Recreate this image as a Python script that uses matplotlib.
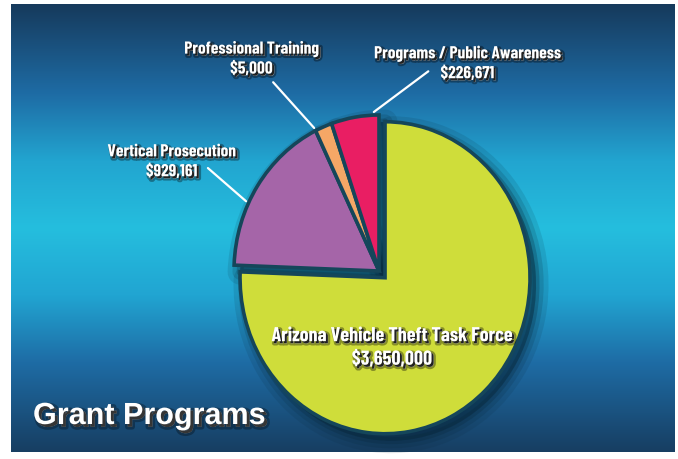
import numpy as np
import matplotlib
matplotlib.use("Agg")
import matplotlib.pyplot as plt
import matplotlib.patheffects as pe
from matplotlib.transforms import ScaledTranslation

# slice shares as drawn (percent of the circle), labels as printed
programs = ["Arizona Vehicle Theft Task Force", "Vertical Prosecution",
            "Professional Training", "Programs / Public Awareness"]
amounts = ["$3,650,000", "$929,161", "$5,000", "$226,671"]
shares = [75.6, 17.2, 1.9, 5.3]
colors = ["#cfdd3a", "#a565a8", "#f5a766", "#e91e63"]
explode = [0.06, 0.0, 0.0, 0.0]

W, H = 678, 459
fig = plt.figure(figsize=(W / 100, H / 100), dpi=100, facecolor="white")

# background gradient panel
ax_bg = fig.add_axes([0, 0, 1, 1])
ax_bg.set_xlim(0, W)
ax_bg.set_ylim(H, 0)
ax_bg.axis("off")
stops = [0.0, 0.2, 0.35, 0.5, 0.65, 0.8, 1.0]
cols = np.array([[22, 58, 92], [30, 108, 165], [34, 165, 208], [37, 190, 222],
                 [33, 165, 210], [30, 108, 165], [23, 62, 98]]) / 255.0
t = np.linspace(0, 1, 400)
grad = np.stack([np.interp(t, stops, cols[:, i]) for i in range(3)], axis=1)
ax_bg.imshow(grad[:, None, :], extent=(11, 675, 452, 4), aspect="auto")

# pie axes (slightly taller than wide, as in the picture)
cx, cy = 379, 271
rx, ry = 145, 156
lim = 1.2
ax = fig.add_axes([(cx - lim * rx) / W, (H - cy - lim * ry) / H,
                   2 * lim * rx / W, 2 * lim * ry / H])
ax.patch.set_alpha(0)

# soft drop shadow
shadow = (0.03, 0.15, 0.22)
for lw, a in [(18, 0.12), (11, 0.16), (5, 0.25)]:
    sh, _ = ax.pie(shares, explode=explode, startangle=90, counterclock=False,
                   colors=[shadow] * 4,
                   wedgeprops=dict(linewidth=lw, edgecolor=shadow, alpha=a,
                                   joinstyle="round"))
    for w in sh:
        w.set_transform(w.get_transform() + ScaledTranslation(0.06, -0.07, fig.dpi_scale_trans))

wedges, _ = ax.pie(shares, explode=explode, startangle=90, counterclock=False,
                   colors=colors,
                   wedgeprops=dict(linewidth=2.6, edgecolor="#15465a"))
ax.set_aspect("auto")
ax.set_xlim(-lim, lim)
ax.set_ylim(-lim, lim)

txt_fx = [pe.Stroke(linewidth=3, foreground=(0, 0, 0, 0.35), offset=(1.6, -1.6)),
          pe.SimplePatchShadow(offset=(1.4, -1.4), shadow_rgbFace="black", alpha=0.8),
          pe.Normal()]
font = ["Barlow Condensed", "DejaVu Sans"]

# label positions (data coords of the pie axes) and leader line tips
label_pos = [(0.09, -0.49), (-1.43, 0.70), (-0.88, 1.36), (0.61, 1.33)]
label_size = [14.5, 12.5, 12.5, 12.5]
line_from = [None, (-1.18, 0.66), (-0.73, 1.21), (0.34, 1.28)]
line_angle = [None, 154, 116, 92]

for i in range(len(programs)):
    if line_from[i] is not None:
        ang = np.deg2rad(line_angle[i])
        tip = (1.02 * np.cos(ang), 1.02 * np.sin(ang))
        ax.annotate("", xy=tip, xytext=line_from[i],
                    arrowprops=dict(arrowstyle="-", color="white", lw=1.6,
                                    shrinkA=0, shrinkB=0),
                    annotation_clip=False)
    ax.text(label_pos[i][0], label_pos[i][1], programs[i] + "\n" + amounts[i],
            ha="center", va="center", color="white", fontsize=label_size[i],
            fontweight="bold", family=font, linespacing=1.3,
            path_effects=txt_fx, clip_on=False)

ax_bg.text(33, 416, "Grant Programs", ha="left", va="center", color="white",
           fontsize=22, fontweight="bold", family=["Liberation Sans", "DejaVu Sans"],
           path_effects=[pe.Stroke(linewidth=4, foreground=(0, 0, 0, 0.3), offset=(2, -2)),
                         pe.SimplePatchShadow(offset=(2, -2), shadow_rgbFace="black", alpha=0.7),
                         pe.Normal()])

fig.savefig("out.png", dpi=100)
